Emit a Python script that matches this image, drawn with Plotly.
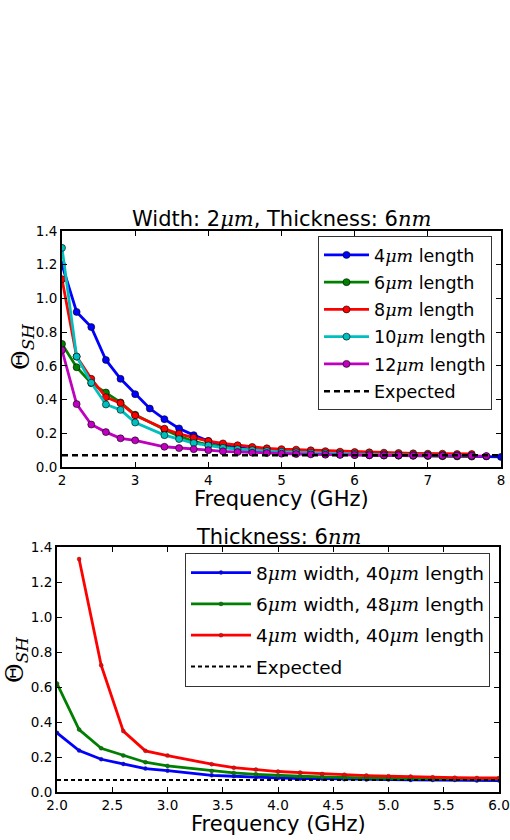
import plotly.graph_objects as go

# ---------------- data: top panel ----------------
freq_top_4 = [2.0, 2.2, 2.4, 2.6, 2.8, 3.0, 3.2, 3.4, 3.6, 3.8, 4.0, 4.2, 4.4, 4.6, 4.8,
              5.0, 5.2, 5.4, 5.6, 5.8, 6.0, 6.2, 6.4, 6.6, 6.8, 7.0, 7.2, 7.4, 7.6, 7.8, 8.0]
theta_4um = [1.2, 0.92, 0.83, 0.635, 0.523, 0.432, 0.347, 0.284, 0.229, 0.189, 0.154, 0.128,
             0.115, 0.105, 0.097, 0.091, 0.086, 0.082, 0.079, 0.076, 0.074, 0.072, 0.071,
             0.07, 0.069, 0.068, 0.067, 0.066, 0.065, 0.063, 0.06]

freq_top = [2.0, 2.2, 2.4, 2.6, 2.8, 3.0, 3.4, 3.6, 3.8, 4.0, 4.2, 4.4, 4.6, 4.8,
            5.0, 5.2, 5.4, 5.6, 5.8, 6.0, 6.2, 6.4, 6.6, 6.8, 7.0, 7.2, 7.4, 7.6]
theta_6um = [0.73, 0.592, 0.497, 0.442, 0.383, 0.31, 0.222, 0.183, 0.152, 0.132, 0.118,
             0.108, 0.1, 0.093, 0.088, 0.083, 0.079, 0.076, 0.073, 0.071, 0.069, 0.068,
             0.067, 0.066, 0.065, 0.064, 0.063, 0.062]
theta_8um = [1.114, 0.655, 0.523, 0.414, 0.379, 0.306, 0.227, 0.197, 0.174, 0.154, 0.14,
             0.129, 0.119, 0.111, 0.106, 0.103, 0.099, 0.094, 0.091, 0.089, 0.087, 0.085,
             0.083, 0.081, 0.079, 0.079, 0.077, 0.077]
theta_10um = [1.3, 0.655, 0.5, 0.371, 0.339, 0.264, 0.189, 0.166, 0.142, 0.128, 0.114,
              0.106, 0.1, 0.095, 0.09, 0.087, 0.084, 0.081, 0.079, 0.077, 0.075, 0.074,
              0.073, 0.072, 0.071, 0.07, 0.069, 0.068]
freq_top_12 = freq_top + [7.8]
theta_12um = [0.694, 0.373, 0.252, 0.207, 0.17, 0.158, 0.12, 0.112, 0.106, 0.1, 0.093,
              0.089, 0.085, 0.083, 0.079, 0.077, 0.075, 0.073, 0.072, 0.071, 0.07, 0.069,
              0.069, 0.068, 0.068, 0.067, 0.067, 0.066, 0.065]

expected_top_x = [2.0, 8.0]
expected_top_y = [0.069, 0.069]

# ---------------- data: bottom panel ----------------
freq_bot = [2.0, 2.2, 2.4, 2.6, 2.8, 3.0, 3.4, 3.6, 3.8, 4.0, 4.2, 4.4, 4.6, 4.8,
            5.0, 5.2, 5.4, 5.6, 5.8, 6.0]
theta_w8_l40 = [0.338, 0.237, 0.187, 0.16, 0.134, 0.122, 0.095, 0.09, 0.084, 0.08, 0.076,
                0.076, 0.073, 0.071, 0.071, 0.069, 0.069, 0.069, 0.065, 0.065]
theta_w6_l48 = [0.62, 0.357, 0.25, 0.208, 0.17, 0.149, 0.12, 0.109, 0.101, 0.094, 0.09,
                0.086, 0.082, 0.08, 0.078, 0.077, 0.076, 0.076, 0.075, 0.075]
freq_bot_red = freq_bot[1:]
theta_w4_l40 = [1.331, 0.724, 0.348, 0.235, 0.208, 0.159, 0.139, 0.128, 0.117, 0.111,
                0.103, 0.099, 0.094, 0.09, 0.088, 0.084, 0.082, 0.08, 0.08]

expected_bot_x = [2.0, 6.0]
expected_bot_y = [0.069, 0.069]

top_names = ["4", "6", "8", "10", "12"]
bot_names = [("8", "40"), ("6", "48"), ("4", "40")]

SERIF = "font-family:DejaVu Serif"


def mu(s):
    return f'{s}<span style="{SERIF}"><i>μm</i></span>'


colors = ["#0000ff", "#008000", "#ff0000", "#00bfbf", "#bf00bf"]

fig = go.Figure()

top_series = [(freq_top_4, theta_4um), (freq_top, theta_6um), (freq_top, theta_8um),
              (freq_top, theta_10um), (freq_top_12, theta_12um)]
for i, ((xs, ys), nm) in enumerate(zip(top_series, top_names)):
    fig.add_trace(go.Scatter(
        x=xs, y=ys, mode="lines+markers", name=mu(nm) + " length",
        line=dict(color=colors[i], width=2.8),
        marker=dict(size=7, color=colors[i], line=dict(color="black", width=0.6)),
        xaxis="x", yaxis="y", legend="legend", legendgroup=f"t{i}"))
fig.add_trace(go.Scatter(
    x=expected_top_x, y=expected_top_y, mode="lines", name="Expected",
    line=dict(color="black", width=2.5, dash="6px,4px"),
    xaxis="x", yaxis="y", legend="legend", legendgroup="t5"))

bot_series = [(freq_bot, theta_w8_l40), (freq_bot, theta_w6_l48), (freq_bot_red, theta_w4_l40)]
bot_colors = ["#0000ff", "#008000", "#ff0000"]
for i, ((xs, ys), (w, l)) in enumerate(zip(bot_series, bot_names)):
    fig.add_trace(go.Scatter(
        x=xs, y=ys, mode="lines+markers", name=mu(w) + " width, " + mu(l) + " length",
        line=dict(color=bot_colors[i], width=2.8),
        marker=dict(size=4, color=bot_colors[i], line=dict(color="#333", width=0.4)),
        xaxis="x2", yaxis="y2", legend="legend2", legendgroup=f"b{i}"))
fig.add_trace(go.Scatter(
    x=expected_bot_x, y=expected_bot_y, mode="lines", name="Expected",
    line=dict(color="black", width=2, dash="4px,3px"),
    xaxis="x2", yaxis="y2", legend="legend2", legendgroup="b3"))

W, H = 510, 840
axis_common = dict(showline=True, linecolor="black", linewidth=2, mirror="ticks",
                   ticks="inside", ticklen=5, tickwidth=1.2, tickcolor="black",
                   showgrid=False, zeroline=False, automargin=False,
                   tickfont=dict(family="DejaVu Sans", size=13.5, color="black"))

fig.update_layout(
    width=W, height=H, margin=dict(l=0, r=0, t=0, b=0),
    paper_bgcolor="white", plot_bgcolor="white",
    font=dict(family="DejaVu Sans", color="black"),
    xaxis=dict(domain=[62 / W, 501 / W], anchor="y", range=[2, 8], dtick=1, tick0=2,
               **axis_common),
    yaxis=dict(domain=[1 - 467 / H, 1 - 231 / H], anchor="x", range=[0, 1.4], dtick=0.2,
               tickformat=".1f", **axis_common),
    xaxis2=dict(domain=[57 / W, 499 / W], anchor="y2", range=[2, 6], dtick=0.5, tick0=2,
                tickformat=".1f", **axis_common),
    yaxis2=dict(domain=[1 - 792 / H, 1 - 547 / H], anchor="x2", range=[0, 1.4], dtick=0.2,
                tickformat=".1f", **axis_common),
    legend=dict(x=492 / W, y=1 - 236 / H, xanchor="right", yanchor="top",
                bgcolor="white", bordercolor="#333", borderwidth=1, itemwidth=45,
                font=dict(size=17.5, family="DejaVu Sans"),
                traceorder="grouped", tracegroupgap=1.5),
    legend2=dict(x=490 / W, y=1 - 553 / H, xanchor="right", yanchor="top",
                 bgcolor="white", bordercolor="#333", borderwidth=1, itemwidth=60,
                 font=dict(size=18.5, family="DejaVu Sans"),
                 traceorder="grouped", tracegroupgap=4.3),
    showlegend=True,
)

annots = [
    dict(text="Width: 2" + '<span style="%s"><i>μm</i></span>' % SERIF + ", Thickness: 6" +
         '<span style="%s"><i>nm</i></span>' % SERIF,
         x=281 / W, y=1 - 219 / H, size=21),
    dict(text="Thickness: 6" + '<span style="%s"><i>nm</i></span>' % SERIF,
         x=278 / W, y=1 - 537 / H, size=21),
    dict(text="Frequency (GHz)", x=281 / W, y=1 - 499 / H, size=21),
    dict(text="Frequency (GHz)", x=278 / W, y=1 - 824 / H, size=21),
]
for a in annots:
    fig.add_annotation(text=a["text"], x=a["x"], y=a["y"], xref="paper", yref="paper",
                       xanchor="center", yanchor="middle", showarrow=False,
                       font=dict(size=a["size"], family="DejaVu Sans", color="black"))

for (xx, yy) in [(22, 347), (16, 660)]:
    fig.add_annotation(text='<span style="%s">Θ<sub><i>SH</i></sub></span>' % SERIF,
                       x=xx / W, y=1 - yy / H, xref="paper", yref="paper",
                       xanchor="center", yanchor="middle", showarrow=False, textangle=-90,
                       font=dict(size=24, color="black"))

fig.write_html("out.html")
